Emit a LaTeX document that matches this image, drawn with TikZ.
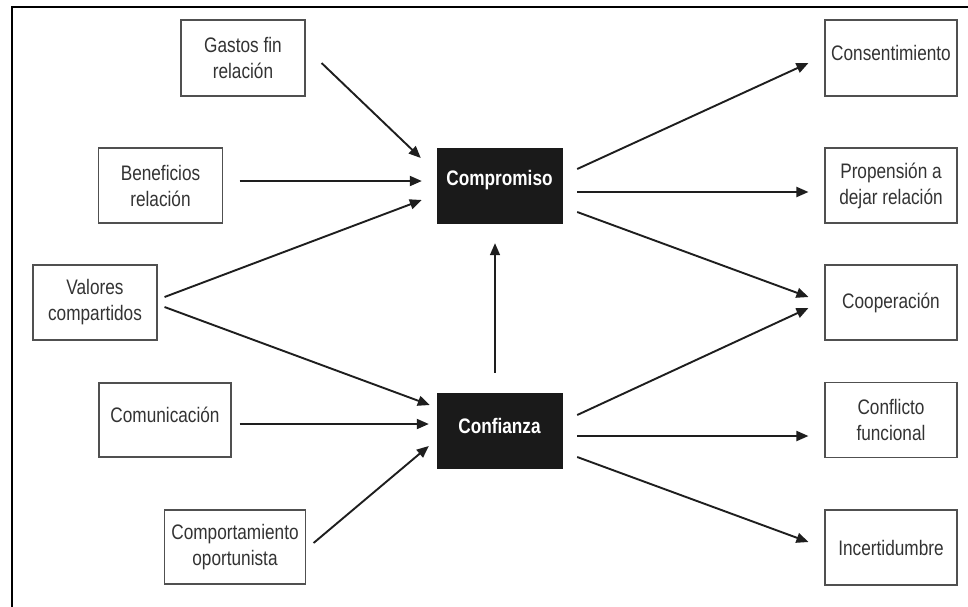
\documentclass[tikz,border=0pt]{standalone}
\usepackage{fontspec}
\setmainfont{Liberation Sans}[FakeStretch=0.82]
\usetikzlibrary{arrows.meta}
\definecolor{boxline}{HTML}{505050}
\definecolor{txt}{HTML}{333333}
\definecolor{arrowc}{HTML}{1E1E1E}
\definecolor{darkfill}{HTML}{1A1A1A}
\newcommand\liftup[1]{\raisebox{5pt}[\height][\depth]{#1}}
\tikzset{
  x=1pt, y=-1pt,
  varbox/.style={draw=boxline, line width=1.1pt, fill=white, rectangle, inner sep=0pt,
    align=center, text=txt, font=\fontsize{21}{26}\selectfont},
  keybox/.style={draw=darkfill, fill=darkfill, rectangle, inner sep=0pt,
    minimum width=125pt, minimum height=75pt, align=center, text=white,
    font=\fontsize{21}{26}\selectfont\bfseries},
  arr/.style={draw=arrowc, line width=1.9pt, -{Triangle[length=12pt,width=10pt]}},
}
\begin{document}
\begin{tikzpicture}
\useasboundingbox (0,0) rectangle (968,606);
\clip (0,0) rectangle (968,606);
\fill[white] (0,0) rectangle (968,606);
\draw[line width=2pt, black] (12,7) rectangle (990,630);

% left boxes
\node[varbox, minimum width=124pt, minimum height=76pt] (gastos) at (243,58) {Gastos fin\\relación};
\node[varbox, minimum width=124pt, minimum height=75pt] (benef) at (160.5,185.5) {Beneficios\\relación};
\node[varbox, minimum width=124pt, minimum height=75pt] (valores) at (95,302.5) {Valores\\compartidos};
\node[varbox, minimum width=132pt, minimum height=74pt] (comun) at (165,420) {\liftup{Comunicación}};
\node[varbox, minimum width=141pt, minimum height=74pt] (comport) at (235,547) {Comportamiento\\oportunista};

% central boxes
\node[keybox] (compromiso) at (499.5,185.5) {\liftup{Compromiso}};
\node[keybox] (confianza) at (499.5,430.5) {\liftup{Confianza}};

% right boxes
\node[varbox, minimum width=132pt, minimum height=76pt] (consent) at (891,58) {\liftup{Consentimiento}};
\node[varbox, minimum width=132pt, minimum height=75pt] (propension) at (891,185.5) {Propensión a\\dejar relación};
\node[varbox, minimum width=132pt, minimum height=75pt] (cooper) at (891,302.5) {Cooperación};
\node[varbox, minimum width=132pt, minimum height=75pt] (conflicto) at (891,420) {Conflicto\\funcional};
\node[varbox, minimum width=132pt, minimum height=75pt] (incert) at (891,547.5) {Incertidumbre};

% arrows into Compromiso
\draw[arr] ([shift={(16,5)}]gastos.east) -- ([shift={(-16,-27.5)}]compromiso.west);
\draw[arr] ([shift={(16.5,-4.5)}]benef.east) -- ([shift={(-15,-4.5)}]compromiso.west);
\draw[arr] ([shift={(7,-5.5)}]valores.east) -- ([shift={(-15,14.5)}]compromiso.west);
% arrows into Confianza
\draw[arr] ([shift={(7,4.5)}]valores.east) -- ([shift={(-7,-25.5)}]confianza.west);
\draw[arr] ([shift={(8,4)}]comun.east) -- ([shift={(-8,-6.5)}]confianza.west);
\draw[arr] ([shift={(7.5,-4)}]comport.east) -- ([shift={(-8,15.5)}]confianza.west);
% Confianza -> Compromiso
\draw[arr, line width=1.5pt] ([shift={(-4.5,-20)}]confianza.north) -- ([shift={(-4.5,20)}]compromiso.south);
% arrows out of Compromiso
\draw[arr] ([shift={(15,-16.5)}]compromiso.east) -- ([shift={(-16,5)}]consent.west);
\draw[arr] ([shift={(15,6.5)}]compromiso.east) -- ([shift={(-16,6.5)}]propension.west);
\draw[arr] ([shift={(15,26.5)}]compromiso.east) -- ([shift={(-16,-5.5)}]cooper.west);
% arrows out of Confianza
\draw[arr] ([shift={(15,-15.5)}]confianza.east) -- ([shift={(-16,5.5)}]cooper.west);
\draw[arr] ([shift={(15,5.5)}]confianza.east) -- ([shift={(-16,16)}]conflicto.west);
\draw[arr] ([shift={(15,26.5)}]confianza.east) -- ([shift={(-16,-5.5)}]incert.west);
\end{tikzpicture}
\end{document}
